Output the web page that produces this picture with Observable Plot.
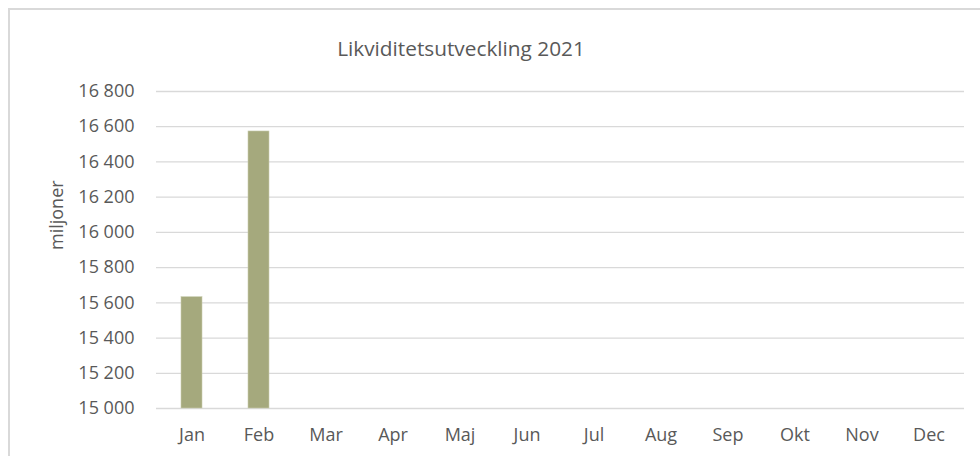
<!DOCTYPE html>
<html>
<head>
<meta charset="utf-8">
<script src="https://cdn.jsdelivr.net/npm/d3@7"></script>
<script src="https://cdn.jsdelivr.net/npm/@observablehq/plot@0.6"></script>
<style>
  html, body { margin: 0; padding: 0; background: #fff; overflow: hidden; width: 980px; height: 456px; }
  #frame { position: absolute; left: 8px; top: 8px; width: 1000px; height: 500px; border: 2px solid #d9d9d9; box-sizing: border-box; pointer-events: none; }
  #title { height: 70px; width: 922px; box-sizing: border-box; padding-top: 36px; line-height: 24px; text-align: center; font-family: "Open Sans", sans-serif; font-size: 20.8px; color: #595959; }
  #chart svg { display: block; }
</style>
</head>
<body>
<div id="frame"></div>
<div id="title">Likviditetsutveckling 2021</div>
<div id="chart"></div>
<script>
const months = ["Jan","Feb","Mar","Apr","Maj","Jun","Jul","Aug","Sep","Okt","Nov","Dec"];
const values = [15632, 16573, null, null, null, null, null, null, null, null, null, null];
const yTicks = [15000, 15200, 15400, 15600, 15800, 16000, 16200, 16400, 16600, 16800];
const yLabel = "miljoner";

const data = months.map((m, i) => ({month: m, value: values[i]})).filter(d => d.value != null);
const yMin = yTicks[0];
const fmt = v => d3.format(",")(v).replace(/,/g, " ");

const chart = Plot.plot({
  width: 980,
  height: 386,
  marginTop: 21,
  marginBottom: 48,
  marginLeft: 156,
  marginRight: 16,
  style: {fontFamily: "Open Sans, sans-serif", fontSize: "18px", color: "#595959", background: "transparent"},
  x: {domain: months, paddingInner: 0.68, paddingOuter: 0.34, align: 0.5},
  y: {domain: [yTicks[0], yTicks[yTicks.length - 1]]},
  marks: [
    Plot.gridY(yTicks, {stroke: "#d9d9d9", strokeOpacity: 1, strokeWidth: 1.3}),
    Plot.barY(data, {x: "month", y1: () => yMin, y2: "value", fill: "#a5a97d", stroke: "#c9cdb0", strokeWidth: 0.6}),
    Plot.axisY(yTicks, {tickSize: 0, tickPadding: 22, tickFormat: fmt, label: null}),
    Plot.axisX({tickSize: 0, tickPadding: 20, label: null}),
    Plot.text([yLabel], {frameAnchor: "left", dx: -99, rotate: -90, text: d => d, fill: "#595959", fontSize: 18})
  ]
});
document.getElementById("chart").appendChild(chart);
</script>
</body>
</html>
